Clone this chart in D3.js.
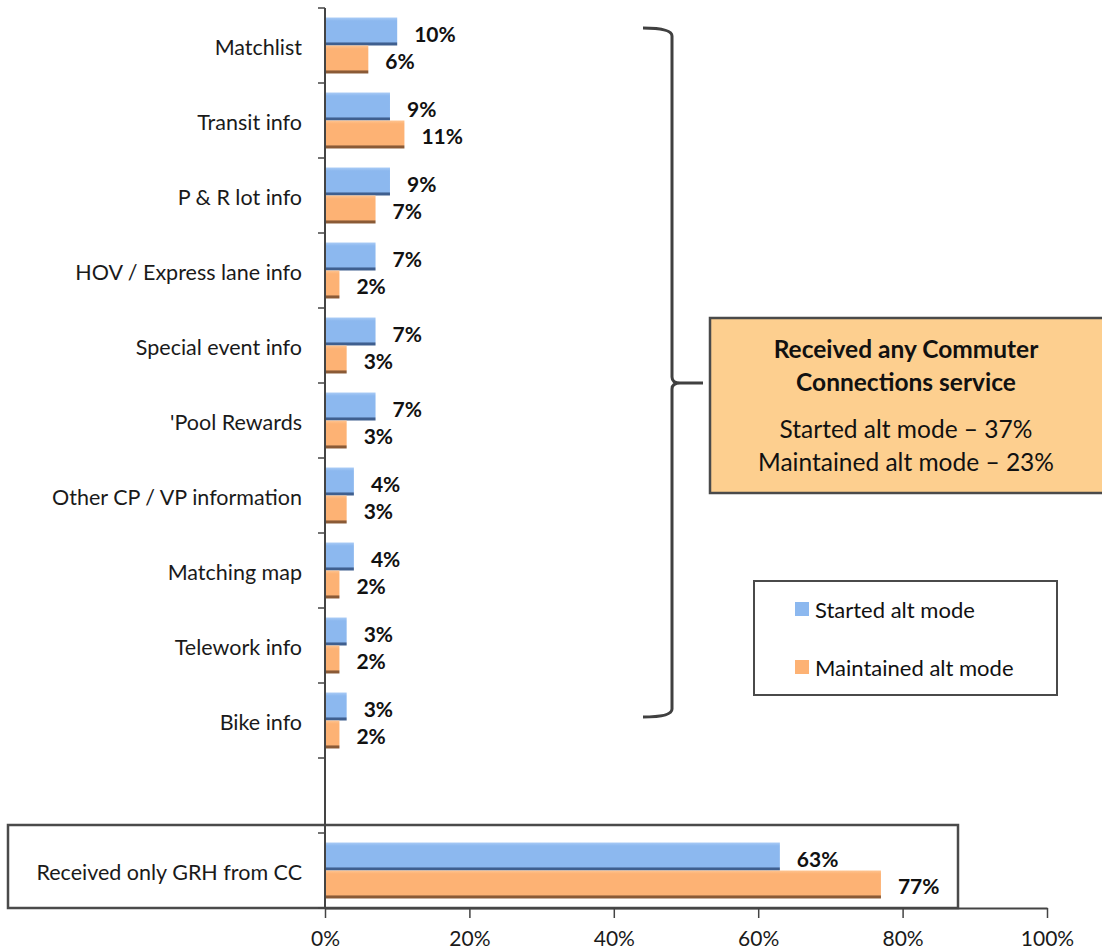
<!DOCTYPE html>
<html>
<head>
<meta charset="utf-8">
<script src="https://cdn.jsdelivr.net/npm/d3@7"></script>
<style>
  body { margin: 0; background: #fff; }
  svg { display: block; font-family: Lato, "Open Sans", sans-serif; }
</style>
</head>
<body>
<div id="vis"></div>
<script>

// data
var categories = ['Matchlist', 'Transit info', 'P & R lot info', 'HOV / Express lane info',
  'Special event info', "'Pool Rewards", 'Other CP / VP information', 'Matching map',
  'Telework info', 'Bike info', '', 'Received only GRH from CC'];
var started = [0.10, 0.09, 0.09, 0.07, 0.07, 0.07, 0.04, 0.04, 0.03, 0.03, null, 0.63];
var maintained = [0.06, 0.11, 0.07, 0.02, 0.03, 0.03, 0.03, 0.02, 0.02, 0.02, null, 0.77];
var seriesNames = ['Started alt mode', 'Maintained alt mode'];
var xTicks = [0, 0.2, 0.4, 0.6, 0.8, 1];
var boxTitle = ['Received any Commuter', 'Connections service'];
var boxLines = ['Started alt mode \u2013 37%', 'Maintained alt mode \u2013 23%'];

var width = 1102;
var height = 952;
var colors = { started: '#8cb8ef', maintained: '#fdb274' };

var svg = d3.select('#vis').append('svg')
  .attr('width', width)
  .attr('height', height);

var defs = svg.append('defs');

// bars get a lighter top and a dark bottom edge, like the office chart
function barGradient(id, light, mid, dark) {
  var g = defs.append('linearGradient')
    .attr('id', id)
    .attr('x1', 0).attr('y1', 0).attr('x2', 0).attr('y2', 1);
  g.append('stop').attr('offset', '0%').attr('stop-color', light);
  g.append('stop').attr('offset', '12%').attr('stop-color', mid);
  g.append('stop').attr('offset', '86%').attr('stop-color', mid);
  g.append('stop').attr('offset', '92%').attr('stop-color', dark);
  g.append('stop').attr('offset', '100%').attr('stop-color', dark);
}
barGradient('gradStarted', '#a9cbf6', '#8cb8ef', '#3f5f8f');
barGradient('gradMaintained', '#ffc490', '#fdb274', '#8a5a36');

var x = d3.scaleLinear().domain([0, 1]).range([325, 1047]);

var y = d3.scaleBand().domain(categories.map(function (d, i) { return i; }))
  .range([8, 908])
  .padding(0);

var ySub = d3.scaleBand().domain(['started', 'maintained'])
  .range([0, y.bandwidth()])
  .paddingOuter(0.34);

var rows = categories.map(function (c, i) {
  return { i: i, name: c, started: started[i], maintained: maintained[i] };
});

// GRH box (drawn first, axis goes over it)
svg.append('rect')
  .attr('x', 8).attr('y', 825)
  .attr('width', 950).attr('height', 83)
  .attr('fill', '#fff')
  .attr('stroke', '#4a4a4a')
  .attr('stroke-width', 2.5);

// bars
var groups = svg.selectAll('.row')
  .data(rows.filter(function (d) { return d.started != null; }))
  .enter().append('g')
  .attr('class', 'row')
  .attr('transform', function (d) { return 'translate(0,' + y(d.i) + ')'; });

['started', 'maintained'].forEach(function (key) {
  groups.append('rect')
    .attr('x', x(0))
    .attr('y', ySub(key))
    .attr('width', function (d) { return x(d[key]) - x(0); })
    .attr('height', ySub.bandwidth())
    .attr('fill', key === 'started' ? 'url(#gradStarted)' : 'url(#gradMaintained)');

  groups.append('text')
    .attr('x', function (d) { return x(d[key]) + 17; })
    .attr('y', ySub(key) + ySub.bandwidth() / 2 + 1.5)
    .attr('dominant-baseline', 'central')
    .style('font-size', '21px')
    .style('font-weight', 'bold')
    .attr('fill', '#111')
    .text(function (d) { return d3.format('.0%')(d[key]); });
});

// category labels
svg.selectAll('.cat')
  .data(rows)
  .enter().append('text')
  .attr('class', 'cat')
  .attr('x', 302)
  .attr('y', function (d) { return y(d.i) + y.bandwidth() / 2 + 1; })
  .attr('text-anchor', 'end')
  .attr('dominant-baseline', 'central')
  .style('font-size', '21.5px')
  .attr('fill', '#1a1a1a')
  .text(function (d) { return d.name; });

// y axis with ticks on the band edges
var yEdges = y.domain().map(function (d) { return y(d); }).concat([y.range()[1]]);
svg.append('line')
  .attr('x1', x(0)).attr('x2', x(0))
  .attr('y1', 8).attr('y2', 908)
  .attr('stroke', '#444').attr('stroke-width', 2);
svg.selectAll('.ytick')
  .data(yEdges)
  .enter().append('line')
  .attr('class', 'ytick')
  .attr('x1', x(0) - 7).attr('x2', x(0))
  .attr('y1', function (d) { return d; })
  .attr('y2', function (d) { return d; })
  .attr('stroke', '#444').attr('stroke-width', 1.5);

// x axis
var xAxis = svg.append('g')
  .attr('transform', 'translate(0,908)')
  .call(d3.axisBottom(x).tickValues(xTicks).tickFormat(d3.format('.0%')).tickSize(10).tickSizeOuter(0).tickPadding(13));
xAxis.select('.domain').attr('stroke', '#444').attr('stroke-width', 2);
xAxis.selectAll('.tick line').attr('stroke', '#444').attr('stroke-width', 1.5);
xAxis.selectAll('.tick text')
  .style('font-size', '21px')
  .style('font-family', 'Lato, "Open Sans", sans-serif')
  .attr('fill', '#1a1a1a');

// brace spanning the service categories
var braceTop = y(0) + 20;
var braceBot = y(9) + y.bandwidth() - 41;
var braceMid = (y(4) + y(5) + y.bandwidth()) / 2;
var bx = 672;
var brace = d3.path();
brace.moveTo(643, braceTop);
brace.quadraticCurveTo(bx, braceTop, bx, braceTop + 8);
brace.lineTo(bx, braceMid - 6);
brace.quadraticCurveTo(bx, braceMid, bx + 8, braceMid);
brace.lineTo(703, braceMid);
brace.moveTo(bx + 8, braceMid);
brace.quadraticCurveTo(bx, braceMid, bx, braceMid + 6);
brace.lineTo(bx, braceBot - 8);
brace.quadraticCurveTo(bx, braceBot, 643, braceBot);
svg.append('path')
  .attr('d', brace.toString())
  .attr('fill', 'none')
  .attr('stroke', '#404040')
  .attr('stroke-width', 3);

// summary box
svg.append('rect')
  .attr('x', 710).attr('y', 318)
  .attr('width', 420).attr('height', 175)
  .attr('fill', '#fdcf8f')
  .attr('stroke', '#4a4a4a')
  .attr('stroke-width', 2.5);
svg.selectAll('.boxTitle')
  .data(boxTitle)
  .enter().append('text')
  .attr('x', 906)
  .attr('y', function (d, i) { return 348 + i * 33; })
  .attr('text-anchor', 'middle')
  .attr('dominant-baseline', 'central')
  .style('font-size', '24.5px')
  .style('font-weight', 'bold')
  .attr('fill', '#111')
  .text(function (d) { return d; });
svg.selectAll('.boxLine')
  .data(boxLines)
  .enter().append('text')
  .attr('x', 906)
  .attr('y', function (d, i) { return 428 + i * 33; })
  .attr('text-anchor', 'middle')
  .attr('dominant-baseline', 'central')
  .style('font-size', '24.5px')
  .attr('fill', '#111')
  .text(function (d) { return d; });

// legend
svg.append('rect')
  .attr('x', 754).attr('y', 581)
  .attr('width', 303).attr('height', 114)
  .attr('fill', '#fff')
  .attr('stroke', '#4a4a4a')
  .attr('stroke-width', 2);
var legend = svg.selectAll('.legend')
  .data(seriesNames)
  .enter().append('g')
  .attr('class', 'legend')
  .attr('transform', function (d, i) { return 'translate(795,' + (609 + i * 58) + ')'; });
legend.append('rect')
  .attr('x', 0).attr('y', -7)
  .attr('width', 14).attr('height', 14)
  .attr('fill', function (d, i) { return i === 0 ? colors.started : colors.maintained; });
legend.append('text')
  .attr('x', 20).attr('y', 0)
  .attr('dominant-baseline', 'central')
  .style('font-size', '22px')
  .attr('fill', '#111')
  .text(function (d) { return d; });

</script>
</body>
</html>
